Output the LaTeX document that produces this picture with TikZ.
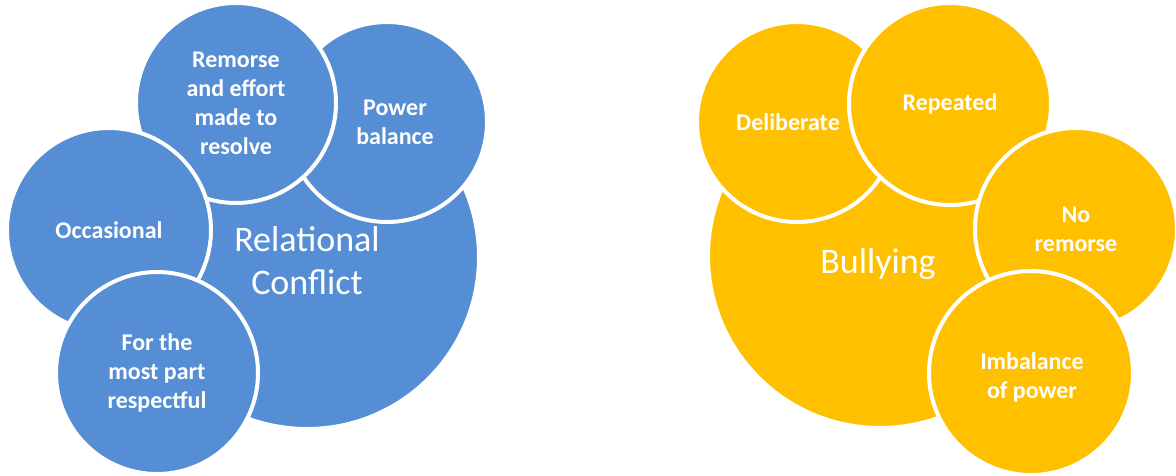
\documentclass[tikz,border=0pt]{standalone}
\usepackage{fontspec}
\setmainfont{Carlito}
\definecolor{conflictblue}{RGB}{85,142,213}
\definecolor{bullyyellow}{RGB}{255,192,0}
\tikzset{
	bubble/.style={
			circle, draw=white, line width=4pt, inner sep=0pt,
			minimum size=#1, text=white, align=center,
			font=\bfseries\fontsize{24}{29}\selectfont
		},
	core/.style={
			bubble=#1,
			font=\fontsize{36}{43}\selectfont
		},
	caption/.style={
			text=white, align=center, inner sep=0pt,
			font=\bfseries\fontsize{24}{29}\selectfont
		},
	corecaption/.style={
			caption,
			font=\fontsize{36}{43}\selectfont
		}
}

\begin{document}
\begin{tikzpicture}[x=1pt, y=-1pt]
        \useasboundingbox (0, 0) rectangle (1176, 475);
        \node[core=344pt, fill=conflictblue] (conflict) at (307, 257) {};
        \node[corecaption] (conflict_text) at (307, 261) {Relational\\Conflict};
        \node[bubble=200pt, fill=conflictblue] (balance) at (387, 122) {};
        \node[caption] (balance_text) at (395, 122) {Power\\balance};
        \node[bubble=200pt, fill=conflictblue] (remorse) at (236, 103) {Remorse\\and effort\\made to\\resolve};
        \node[bubble=204pt, fill=conflictblue] (occasional) at (109, 230) {Occasional};
        \node[bubble=202pt, fill=conflictblue] (respectful) at (157, 373) {For the\\most part\\respectful};
        \node[core=344pt, fill=bullyyellow] (bullying) at (880, 256) {};
        \node[corecaption] (bullying_text) at (878, 264) {Bullying};
        \node[bubble=200pt, fill=bullyyellow] (deliberate) at (797, 122) {};
        \node[caption] (deliberate_text) at (788, 122) {Deliberate};
        \node[bubble=202pt, fill=bullyyellow] (repeated) at (950, 104) {Repeated};
        \node[bubble=202pt, fill=bullyyellow] (noremorse) at (1076, 229) {No\\remorse};
        \node[bubble=204pt, fill=bullyyellow] (imbalance) at (1031, 373) {};
        \node[caption] (imbalance_text) at (1032, 377) {Imbalance\\of power};
    \end{tikzpicture}
\end{document}
